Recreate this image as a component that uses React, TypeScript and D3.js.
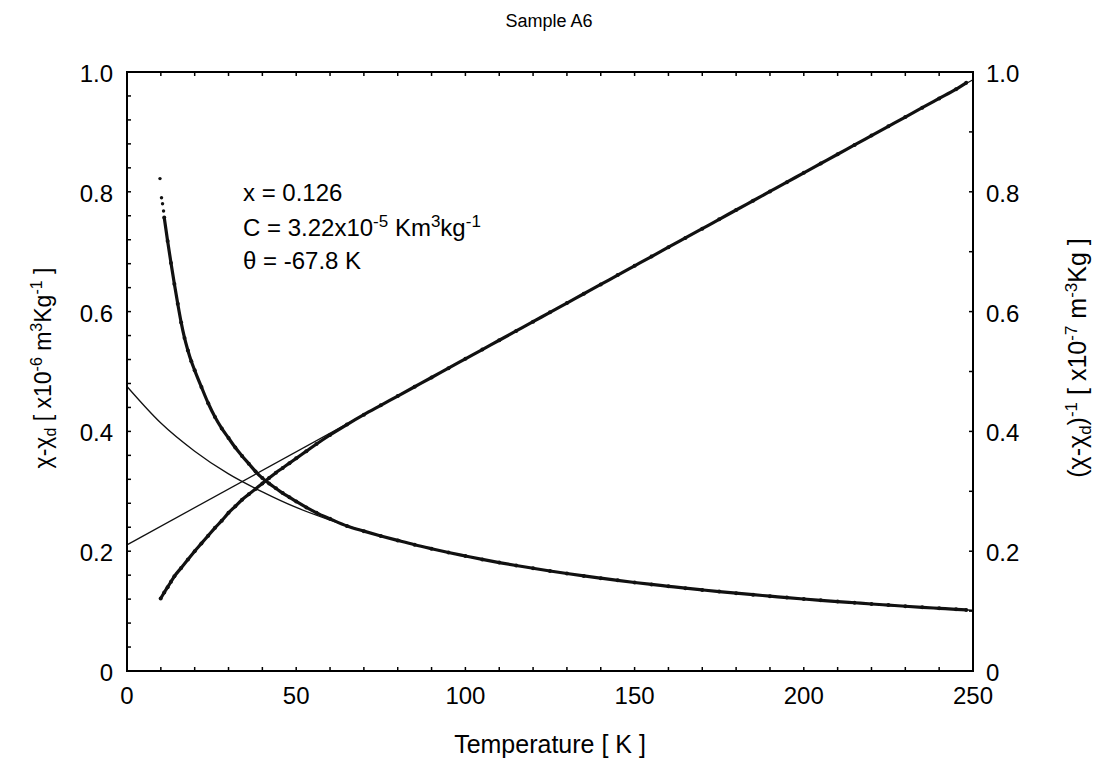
import React from "react";
import * as d3 from "d3";

const W = 1099;
const H = 762;

// Curie-Weiss fit of χ-χd (left axis)
const fitT = [0, 10, 20, 30, 40, 50, 60, 70, 80, 90, 100, 110, 120, 130, 140, 150, 160, 170, 180, 190, 200, 210, 220, 230, 240, 250];
const fitChi = [0.475, 0.414, 0.367, 0.329, 0.299, 0.273, 0.252, 0.234, 0.218, 0.204, 0.192, 0.181, 0.1715, 0.163, 0.155, 0.148, 0.1414, 0.1354, 0.13, 0.125, 0.1202, 0.1159, 0.1119, 0.1081, 0.1046, 0.1013];

// straight fit of (χ-χd)^-1 (right axis)
const invFitT = [0, 250];
const invFitVal = [0.2106, 0.987];

// measured data
const dataT = [11, 12, 13, 14, 15, 16, 17, 18, 19, 20, 22, 24, 26, 28, 30, 32, 34, 36, 38, 40, 42, 44, 46, 48, 50, 53, 56, 60, 65, 70, 75, 80, 85, 90, 95, 100, 105, 110, 115, 120, 125, 130, 135, 140, 145, 150, 155, 160, 165, 170, 175, 180, 185, 190, 195, 200, 205, 210, 215, 220, 225, 230, 235, 240, 245, 248];
const dataChi = [0.757, 0.718, 0.681, 0.646, 0.613, 0.582, 0.556, 0.535, 0.517, 0.502, 0.474, 0.447, 0.424, 0.405, 0.389, 0.373, 0.359, 0.346, 0.333, 0.322, 0.313, 0.305, 0.297, 0.29, 0.283, 0.273, 0.264, 0.254, 0.242, 0.2335, 0.2255, 0.218, 0.2107, 0.2041, 0.1978, 0.192, 0.1863, 0.181, 0.1761, 0.1715, 0.167, 0.1628, 0.1588, 0.155, 0.1513, 0.1478, 0.1445, 0.1414, 0.1383, 0.1354, 0.1326, 0.13, 0.1274, 0.125, 0.1225, 0.1202, 0.118, 0.1159, 0.1139, 0.1119, 0.11, 0.1081, 0.1063, 0.1046, 0.1029, 0.1019];

const outlierT = [9.75, 10.2, 10.5, 10.8];
const outlierChi = [0.822, 0.79, 0.78, 0.768];

const invDataT = [9.95, 11, 12, 13, 14, 16, 18, 20, 22, 24, 26, 28, 30, 32, 34, 36, 38, 40, 42, 44, 46, 48, 50, 53, 56, 60, 65, 70, 75, 80, 85, 90, 95, 100, 105, 110, 115, 120, 125, 130, 135, 140, 145, 150, 155, 160, 165, 170, 175, 180, 185, 190, 195, 200, 205, 210, 215, 220, 225, 230, 235, 240, 245, 248];
const invDataVal = [0.121, 0.131, 0.14, 0.149, 0.158, 0.172, 0.186, 0.2, 0.213, 0.226, 0.239, 0.251, 0.264, 0.275, 0.286, 0.295, 0.304, 0.313, 0.322, 0.331, 0.339, 0.347, 0.355, 0.367, 0.379, 0.394, 0.4115, 0.428, 0.4435, 0.459, 0.4745, 0.49, 0.5056, 0.5211, 0.5366, 0.5522, 0.5677, 0.5832, 0.5988, 0.6143, 0.6298, 0.6453, 0.6609, 0.6764, 0.6919, 0.7075, 0.723, 0.7385, 0.754, 0.7696, 0.7851, 0.8006, 0.8161, 0.8317, 0.8472, 0.8627, 0.8783, 0.8938, 0.9093, 0.9248, 0.9404, 0.9559, 0.9714, 0.982];

const xTickLabels = [0, 50, 100, 150, 200, 250];
const yTickLabels = [0, 0.2, 0.4, 0.6, 0.8, 1.0];

const M = { left: 127, right: 973, top: 72, bottom: 671 };
const FONT = "'Liberation Sans', Arial, Helvetica, sans-serif";

export default function App() {
  const x = d3.scaleLinear().domain([0, 250]).range([M.left, M.right]);
  const yL = d3.scaleLinear().domain([0, 1]).range([M.bottom, M.top]);
  const yR = d3.scaleLinear().domain([0, 1]).range([M.bottom, M.top]);

  const line = (ts: number[], vs: number[], y: d3.ScaleLinear<number, number>, curve: d3.CurveFactory = d3.curveMonotoneX) =>
    d3.line<number>().x((_, i) => x(ts[i])).y((v) => y(v)).curve(curve)(vs) || "";

  const fmt = (v: number) => (v === 0 ? "0" : v.toFixed(1));
  const xMinor = d3.range(0, 251, 10);
  const yMinorL = d3.range(0, 1.0001, 0.04);
  const yMinorR = d3.range(0, 1.0001, 0.1);

  return (
    <svg width={W} height={H} style={{ position: "absolute", left: 0, top: 0, background: "#fff" }} fontFamily={FONT}>
      <rect x={0} y={0} width={W} height={H} fill="#fff" />
      {/* fits */}
      <path d={line(fitT, fitChi, yL)} fill="none" stroke="#111" strokeWidth={1.3} />
      <path d={line(invFitT, invFitVal, yR, d3.curveLinear)} fill="none" stroke="#111" strokeWidth={1.3} />
      {/* data */}
      <path d={line(dataT, dataChi, yL)} fill="none" stroke="#111" strokeWidth={3.2} />
      <path d={line(invDataT, invDataVal, yR)} fill="none" stroke="#111" strokeWidth={3.2} />
      {dataT.map((t, i) => (
        <circle key={"c" + i} cx={x(t)} cy={yL(dataChi[i])} r={2} fill="#111" />
      ))}
      {invDataT.map((t, i) => (
        <circle key={"i" + i} cx={x(t)} cy={yR(invDataVal[i])} r={2} fill="#111" />
      ))}
      {outlierT.map((t, i) => (
        <circle key={"o" + i} cx={x(t)} cy={yL(outlierChi[i])} r={1.7} fill="#111" />
      ))}

      {/* frame */}
      <rect x={M.left} y={M.top} width={M.right - M.left} height={M.bottom - M.top} fill="none" stroke="#000" strokeWidth={2} />
      {xMinor.map((t) => (
        <g key={"xt" + t}>
          <line x1={x(t)} x2={x(t)} y1={M.bottom} y2={M.bottom - 4} stroke="#000" strokeWidth={1.5} />
          <line x1={x(t)} x2={x(t)} y1={M.top} y2={M.top + 4} stroke="#000" strokeWidth={1.5} />
        </g>
      ))}
      {yMinorL.map((v, i) => (
        <line key={"yl" + i} x1={M.left} x2={M.left + 4} y1={yL(v)} y2={yL(v)} stroke="#000" strokeWidth={1.5} />
      ))}
      {yMinorR.map((v, i) => (
        <line key={"yr" + i} x1={M.right} x2={M.right - 4} y1={yR(v)} y2={yR(v)} stroke="#000" strokeWidth={1.5} />
      ))}

      {/* tick labels */}
      {xTickLabels.map((t) => (
        <text key={"xl" + t} x={x(t)} y={704} textAnchor="middle" fontSize={24} fill="#000">{t}</text>
      ))}
      {yTickLabels.map((v) => (
        <text key={"yll" + v} x={113} y={yL(v) + 10} textAnchor="end" fontSize={24} fill="#000">{fmt(v)}</text>
      ))}
      {yTickLabels.map((v) => (
        <text key={"yrl" + v} x={986} y={yR(v) + 10} textAnchor="start" fontSize={24} fill="#000">{fmt(v)}</text>
      ))}

      {/* title & axis labels */}
      <text x={549} y={27} textAnchor="middle" fontSize={18} fill="#000">Sample A6</text>
      <text x={550} y={753} textAnchor="middle" fontSize={25} fill="#000">Temperature [ K ]</text>

      <text transform="translate(51,368) rotate(-90)" textAnchor="middle" fontSize={23} fill="#000">
        χ-χ<tspan dy={5} fontSize={16}>d</tspan>
        <tspan dy={-5}> [ x10</tspan>
        <tspan dy={-9} fontSize={16}>-6</tspan>
        <tspan dy={9}> m</tspan>
        <tspan dy={-9} fontSize={16}>3</tspan>
        <tspan dy={9}>Kg</tspan>
        <tspan dy={-9} fontSize={16}>-1</tspan>
        <tspan dy={9}> ]</tspan>
      </text>

      <text transform="translate(1086,358) rotate(-90)" textAnchor="middle" fontSize={25} fill="#000">
        (χ-χ<tspan dy={5} fontSize={17}>d</tspan>
        <tspan dy={-5}>)</tspan>
        <tspan dy={-9} fontSize={17}>-1</tspan>
        <tspan dy={9}> [ x10</tspan>
        <tspan dy={-9} fontSize={17}>-7</tspan>
        <tspan dy={9}> m</tspan>
        <tspan dy={-9} fontSize={17}>-3</tspan>
        <tspan dy={9}>Kg ]</tspan>
      </text>

      {/* annotation */}
      <text x={243} y={201} fontSize={24} fill="#000">x = 0.126</text>
      <text x={243} y={236} fontSize={24} fill="#000">
        C = 3.22x10<tspan dy={-9} fontSize={17}>-5</tspan>
        <tspan dy={9}> Km</tspan>
        <tspan dy={-9} fontSize={17}>3</tspan>
        <tspan dy={9}>kg</tspan>
        <tspan dy={-9} fontSize={17}>-1</tspan>
      </text>
      <text x={243} y={269} fontSize={24} fill="#000">θ = -67.8 K</text>
    </svg>
  );
}
